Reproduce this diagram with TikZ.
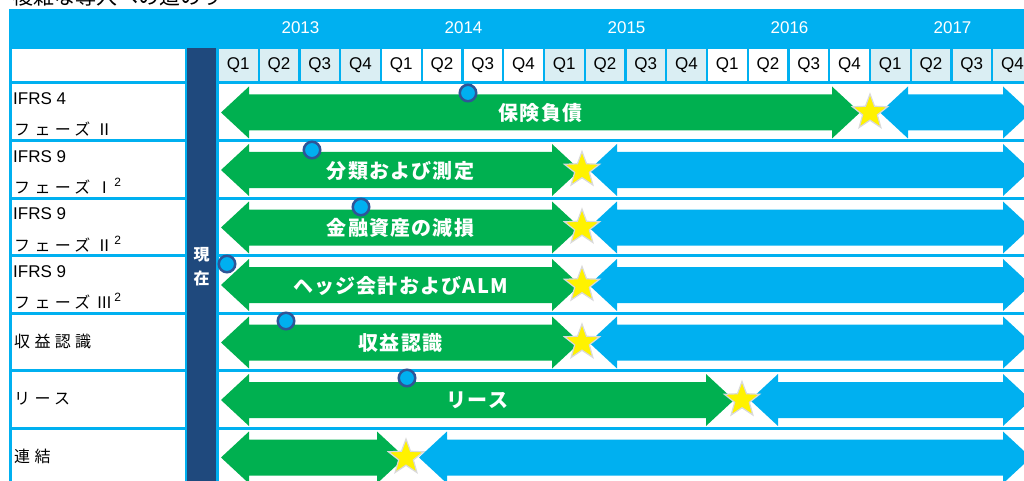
\documentclass[tikz,border=0pt]{standalone}
\usepackage{fontspec}
\setmainfont{Liberation Sans}
\newfontfamily\cjk{Noto Sans CJK JP}
\newfontfamily\cjkls[LetterSpace=27]{Noto Sans CJK JP}
\newfontfamily\cjkb[LetterSpace=6]{Noto Sans CJK JP}
\usetikzlibrary{shapes.geometric}
\definecolor{hblue}{HTML}{00B0F0}
\definecolor{qshade}{HTML}{DAEEF3}
\definecolor{navy}{HTML}{1F497D}
\definecolor{agreen}{HTML}{00B050}
\definecolor{ring}{HTML}{2F5597}
\definecolor{staredge}{HTML}{D9D9D9}
% double arrow: colour, left tip x, right tip x, centre y
\newcommand\dblarr[4]{%
  \fill[#1] (#2,#4) -- ({#2+28},{#4-26}) -- ({#2+28},{#4-18}) -- ({#3-28},{#4-18})
    -- ({#3-28},{#4-26}) -- (#3,#4) -- ({#3-28},{#4+26}) -- ({#3-28},{#4+18})
    -- ({#2+28},{#4+18}) -- ({#2+28},{#4+26}) -- cycle;}
\tikzset{
  yearlab/.style={text=white, font=\fontsize{17}{17}\selectfont, inner sep=0pt},
  qlab/.style={text=black, font=\fontsize{17}{17}\selectfont, inner sep=0pt},
  rowlab/.style={anchor=west, inner sep=0pt, font=\fontsize{17}{17}\selectfont},
  jlab/.style={anchor=west, inner sep=0pt, font=\cjkls\fontsize{16}{16}\selectfont},
  arrlab/.style={text=white, inner sep=0pt, font=\cjkb\bfseries\fontsize{20}{20}\selectfont},
  milestone/.style={star, star points=5, star point ratio=2.4, fill=yellow, draw=staredge,
    line width=1.2pt, minimum size=37pt, inner sep=0pt},
  marker/.style={circle, fill=hblue, draw=ring, line width=2.5pt, minimum size=16.5pt, inner sep=0pt},
}
\newcommand\supii{\hspace{2pt}\raisebox{7pt}{\rmfamily\fontsize{12}{12}\selectfont 2}}
\newcommand\phgap{\hspace{6pt}}
\begin{document}
\begin{tikzpicture}[x=1pt,y=-1pt]
\useasboundingbox (0,0) rectangle (1024,481);
\fill[white] (0,0) rectangle (1024,481);
% title (cut at top)
\node[anchor=base west, inner sep=0pt, font=\cjk\fontsize{21}{21}\selectfont] (title) at (12,5) {複雑な導入への道のり};
% table background
\fill[hblue] (9,9) rectangle (1034,490);
% header left cell
\fill[white] (12,49.5) rectangle (184.5,81.5);
% rows cells
\foreach \a/\b in {83/140.5,140.5/198,198/255.5,255.5/313,313/370.5,370.5/428,428/485.5}{
  \fill[white] (12,{\a+1.5}) rectangle (184.5,{\b-1.5});
  \fill[white] (219,{\a+1.5}) rectangle (1034,{\b-1.5});
}
% now column
\fill[navy] (187,48) rectangle (216,490);
\node[text=white, inner sep=0pt, font=\cjk\bfseries\fontsize{16}{16}\selectfont] (now1) at (201.5,255) {現};
\node[text=white, inner sep=0pt, font=\cjk\bfseries\fontsize{16}{16}\selectfont] (now2) at (201.5,278) {在};
% years
\foreach \y [count=\i from 0] in {2013,2014,2015,2016,2017}
  \node[yearlab] (y\y) at ({300.5+163*\i},28) {\y};
% quarters
\foreach \k in {0,...,19}{
  \pgfmathsetmacro\xa{219+40.75*\k}
  \pgfmathtruncatemacro\yr{int(\k/4)}
  \pgfmathtruncatemacro\q{mod(\k,4)+1}
  \pgfmathtruncatemacro\sh{mod(\yr,2)}
  \ifnum\sh=0 \def\cc{qshade}\else\def\cc{white}\fi
  \fill[\cc] (\xa,49.5) rectangle ({\xa+38.5},81.5);
  \node[qlab] (q\k) at ({\xa+19.25},65.5) {Q\q};
}
% row labels
\node[rowlab] (r1a) at (13,99) {IFRS 4};
\node[jlab] (r1b) at (14,129) {フェーズ\phgap Ⅱ};
\node[rowlab] (r2a) at (13,156.5) {IFRS 9};
\node[jlab] (r2b) at (14,186.5) {フェーズ\phgap Ⅰ\supii};
\node[rowlab] (r3a) at (13,214) {IFRS 9};
\node[jlab] (r3b) at (14,244) {フェーズ\phgap Ⅱ\supii};
\node[rowlab] (r4a) at (13,271.5) {IFRS 9};
\node[jlab] (r4b) at (14,301.5) {フェーズ\phgap Ⅲ\supii};
\node[jlab] (r5) at (14,341.75) {収益認識};
\node[jlab] (r6) at (14,399.25) {リース};
\node[jlab] (r7) at (14,456.75) {連結};
% arrows
\dblarr{agreen}{221}{860}{112.5}
\dblarr{hblue}{880}{1031}{112.5}
\dblarr{agreen}{221}{580}{170}
\dblarr{hblue}{589}{1031}{170}
\dblarr{agreen}{221}{580}{227.5}
\dblarr{hblue}{589}{1031}{227.5}
\dblarr{agreen}{221}{580}{285}
\dblarr{hblue}{589}{1031}{285}
\dblarr{agreen}{221}{580}{342.5}
\dblarr{hblue}{589}{1031}{342.5}
\dblarr{agreen}{221}{734}{400}
\dblarr{hblue}{750}{1031}{400}
\dblarr{agreen}{221}{405}{457.5}
\dblarr{hblue}{419}{1031}{457.5}
% arrow labels
\node[arrlab] (l1) at (540.5,113) {保険負債};
\node[arrlab] (l2) at (400.5,170.5) {分類および測定};
\node[arrlab] (l3) at (400.5,228) {金融資産の減損};
\node[arrlab] (l4) at (400.5,285.5) {ヘッジ会計およびALM};
\node[arrlab] (l5) at (400.5,343) {収益認識};
\node[arrlab] (l6) at (477.5,400.5) {リース};
% markers
\node[marker] (m1) at (468,93) {};
\node[marker] (m2) at (312,150) {};
\node[marker] (m3) at (361,207) {};
\node[marker] (m4) at (227,264) {};
\node[marker] (m5) at (286,321) {};
\node[marker] (m6) at (407,378) {};
% stars
\node[milestone] (s1) at (870,112.5) {};
\node[milestone] (s2) at (582,170) {};
\node[milestone] (s3) at (582,227.5) {};
\node[milestone] (s4) at (582,285) {};
\node[milestone] (s5) at (582,342.5) {};
\node[milestone] (s6) at (742,400) {};
\node[milestone] (s7) at (406,457.5) {};
\end{tikzpicture}
\end{document}
